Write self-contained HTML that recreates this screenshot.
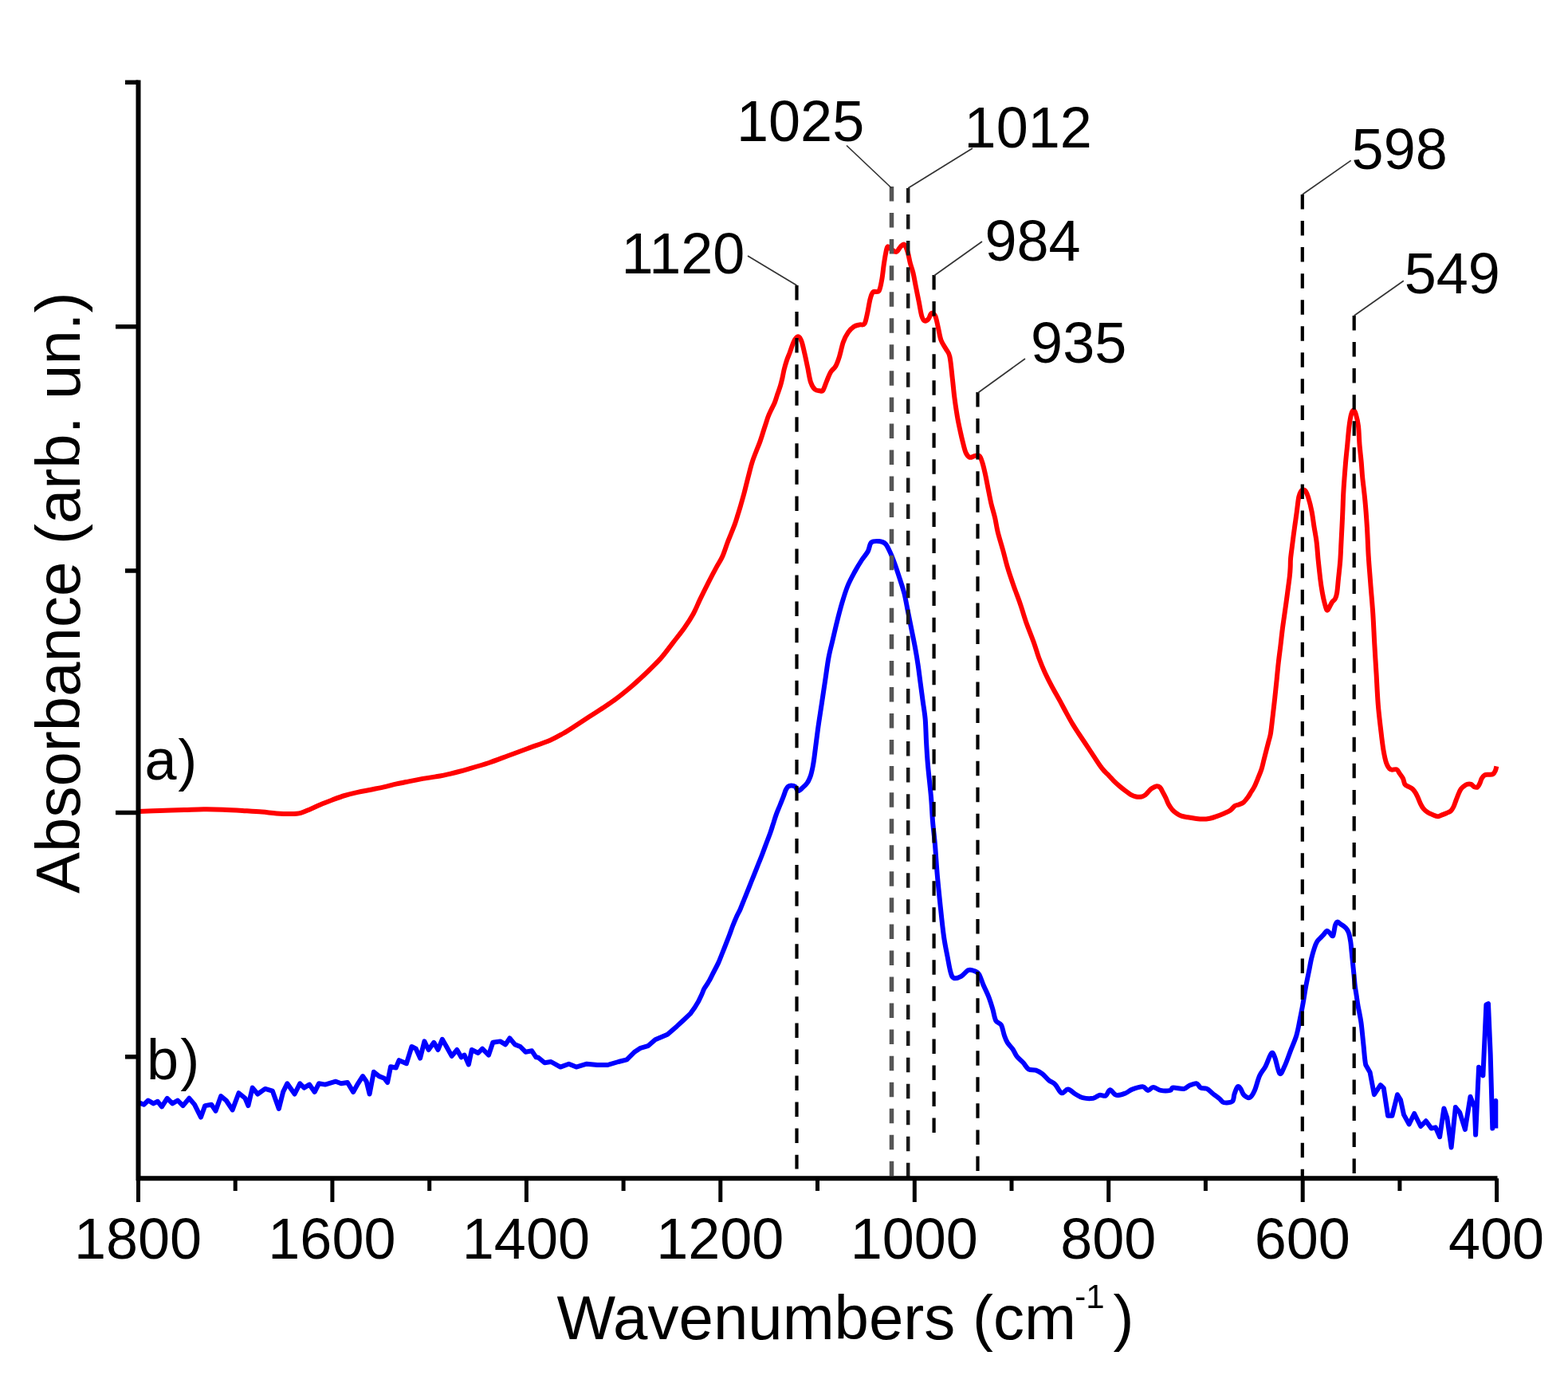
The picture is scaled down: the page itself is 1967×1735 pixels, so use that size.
<!DOCTYPE html>
<html><head><meta charset="utf-8"><title>IR spectra</title>
<style>html,body{margin:0;padding:0;background:#fff;}svg{display:block;}</style></head>
<body>
<svg xmlns="http://www.w3.org/2000/svg" width="1967" height="1735" viewBox="0 0 1967 1735">
<rect width="1967" height="1735" fill="#fff"/>
<path d="M173.7,1017.9 C178.2,1017.8 190.9,1017.3 200.5,1017.0 C210.1,1016.7 221.8,1016.4 231.0,1016.1 C240.2,1015.8 247.3,1015.4 255.4,1015.3 C263.5,1015.2 271.7,1015.4 279.8,1015.7 C287.9,1016.0 296.1,1016.5 304.2,1017.0 C312.3,1017.5 321.5,1018.0 328.6,1018.6 C335.7,1019.2 340.8,1020.0 346.9,1020.4 C353.0,1020.8 360.1,1021.1 365.2,1021.0 C370.3,1020.9 373.3,1020.8 377.4,1019.8 C381.5,1018.8 385.5,1016.6 389.6,1014.9 C393.7,1013.2 397.4,1011.3 401.8,1009.4 C406.2,1007.5 411.2,1005.6 416.3,1003.7 C421.4,1001.8 427.1,999.6 432.5,998.0 C437.9,996.4 443.4,995.1 448.8,993.9 C454.2,992.7 459.7,991.8 465.1,990.7 C470.5,989.6 476.0,988.6 481.4,987.4 C486.8,986.2 492.2,984.6 497.6,983.4 C503.0,982.2 508.5,981.2 513.9,980.1 C519.3,979.0 524.8,977.9 530.2,976.9 C535.6,975.9 540.8,975.4 546.5,974.4 C552.2,973.4 557.4,972.5 564.4,970.8 C571.4,969.1 580.7,966.6 588.8,964.3 C596.9,962.0 605.1,959.7 613.2,957.0 C621.3,954.3 629.5,951.0 637.6,948.0 C645.7,945.0 653.3,942.2 662.0,939.0 C670.7,935.8 682.5,931.9 690.0,928.7 C697.5,925.5 701.1,923.2 706.7,920.0 C712.3,916.8 717.8,913.1 723.4,909.5 C729.0,905.9 734.5,902.2 740.1,898.6 C745.7,895.0 751.3,891.5 756.9,887.8 C762.5,884.0 768.0,880.3 773.6,876.1 C779.2,871.9 784.7,867.4 790.3,862.7 C795.9,858.0 802.6,851.8 807.0,847.7 C811.4,843.7 812.9,842.3 816.7,838.4 C820.6,834.5 825.5,829.9 830.1,824.5 C834.7,819.1 839.7,812.2 844.4,806.1 C849.1,800.0 854.3,793.6 858.5,787.7 C862.7,781.8 866.2,776.5 869.5,770.5 C872.8,764.5 875.0,758.5 878.2,751.9 C881.4,745.3 885.0,738.0 888.5,731.1 C892.0,724.2 896.4,715.9 899.4,710.4 C902.4,704.9 904.1,703.0 906.3,698.0 C908.5,693.0 910.8,685.5 912.6,680.7 C914.4,675.9 915.8,672.9 917.3,669.0 C918.8,665.1 920.4,661.4 921.8,657.6 C923.2,653.8 924.3,649.8 925.5,646.0 C926.7,642.2 927.7,639.1 929.0,634.6 C930.3,630.1 931.9,624.6 933.4,619.0 C934.9,613.4 936.7,605.7 938.0,600.7 C939.3,595.7 940.0,592.9 941.0,589.0 C942.0,585.1 943.0,581.4 944.3,577.6 C945.6,573.8 947.2,569.8 948.7,566.0 C950.2,562.2 951.8,558.4 953.2,554.6 C954.6,550.8 955.8,546.9 957.0,543.0 C958.2,539.1 959.6,534.8 960.7,531.5 C961.8,528.2 962.4,525.9 963.5,523.0 C964.6,520.1 966.1,517.0 967.5,514.0 C968.9,511.0 970.6,508.2 971.9,504.9 C973.2,501.6 974.3,497.4 975.5,494.0 C976.7,490.6 977.9,487.5 978.9,484.2 C979.9,480.9 980.7,477.5 981.5,474.0 C982.3,470.5 982.8,467.1 983.7,463.4 C984.6,459.7 985.9,455.4 987.0,452.0 C988.1,448.6 989.4,445.9 990.6,442.7 C991.8,439.5 992.9,435.9 994.0,433.0 C995.1,430.1 996.2,427.3 997.5,425.5 C998.8,423.7 1000.4,421.8 1001.8,422.4 C1003.2,422.9 1004.4,425.2 1005.7,428.8 C1007.0,432.4 1008.2,438.5 1009.5,444.0 C1010.8,449.5 1012.0,455.8 1013.3,461.7 C1014.5,467.6 1015.5,475.1 1017.0,479.5 C1018.5,483.9 1020.2,486.6 1022.1,488.4 C1024.0,490.2 1026.8,490.1 1028.5,490.3 C1030.2,490.5 1030.9,491.8 1032.4,489.7 C1033.9,487.6 1035.7,481.4 1037.3,477.6 C1038.9,473.8 1040.3,469.7 1042.1,466.7 C1043.9,463.7 1046.4,462.7 1048.2,459.5 C1050.0,456.3 1051.4,452.4 1053.0,447.3 C1054.6,442.2 1056.0,434.2 1057.8,429.2 C1059.6,424.2 1061.7,420.3 1063.9,417.1 C1066.1,413.9 1068.8,411.4 1071.2,409.8 C1073.6,408.2 1076.2,408.0 1078.4,407.4 C1080.6,406.8 1082.9,408.6 1084.5,406.2 C1086.1,403.8 1086.9,398.1 1088.1,392.9 C1089.3,387.6 1090.5,379.1 1091.7,374.7 C1092.9,370.3 1093.6,367.9 1095.4,366.3 C1097.2,364.7 1100.8,367.6 1102.6,365.0 C1104.4,362.4 1105.3,355.9 1106.3,350.5 C1107.3,345.1 1107.9,337.8 1108.7,332.4 C1109.5,326.9 1110.3,321.6 1111.1,317.8 C1111.9,314.0 1112.3,310.2 1113.5,309.4 C1114.7,308.6 1116.6,311.9 1118.4,313.0 C1120.2,314.1 1122.7,316.6 1124.6,316.0 C1126.5,315.4 1128.0,310.9 1129.7,309.4 C1131.4,307.9 1133.0,305.7 1134.5,306.9 C1136.0,308.1 1137.6,312.8 1138.8,316.6 C1140.0,320.5 1140.7,325.8 1141.8,330.0 C1142.9,334.2 1144.2,337.0 1145.4,342.0 C1146.6,347.0 1147.8,354.1 1149.0,360.2 C1150.2,366.3 1151.5,372.3 1152.7,378.4 C1153.9,384.4 1155.1,392.5 1156.3,396.5 C1157.5,400.5 1158.5,402.0 1159.9,402.6 C1161.3,403.2 1163.4,401.7 1164.8,400.1 C1166.2,398.5 1167.0,393.5 1168.4,392.9 C1169.8,392.3 1171.9,393.5 1173.3,396.5 C1174.7,399.5 1175.7,405.9 1176.9,411.0 C1178.1,416.1 1178.9,422.4 1180.5,426.8 C1182.1,431.2 1184.8,434.3 1186.6,437.7 C1188.4,441.1 1190.0,441.1 1191.4,447.3 C1192.8,453.5 1193.8,466.5 1194.8,475.0 C1195.8,483.5 1196.3,490.3 1197.3,498.2 C1198.3,506.1 1199.7,515.4 1200.9,522.4 C1202.1,529.4 1203.3,534.9 1204.5,540.5 C1205.7,546.1 1207.0,551.6 1208.2,556.3 C1209.4,560.9 1210.4,565.5 1211.8,568.4 C1213.2,571.3 1214.8,573.2 1216.6,573.8 C1218.4,574.4 1220.7,572.3 1222.7,572.0 C1224.7,571.7 1227.1,570.6 1228.7,572.0 C1230.3,573.4 1231.2,576.7 1232.4,580.5 C1233.6,584.3 1234.8,589.6 1236.0,595.0 C1237.2,600.4 1238.4,607.1 1239.6,613.1 C1240.8,619.1 1241.9,625.2 1243.3,631.3 C1244.7,637.3 1246.7,643.4 1248.1,649.4 C1249.5,655.4 1250.0,660.7 1251.7,667.5 C1253.4,674.3 1256.0,682.5 1258.1,690.0 C1260.2,697.5 1261.8,704.9 1264.1,712.4 C1266.3,719.9 1269.0,727.4 1271.6,734.9 C1274.2,742.4 1277.2,749.9 1279.8,757.4 C1282.4,764.9 1284.1,771.6 1287.0,779.9 C1289.9,788.1 1294.5,799.3 1297.2,806.9 C1299.9,814.5 1300.9,819.1 1303.2,825.3 C1305.5,831.4 1308.0,837.7 1310.8,843.8 C1313.6,849.9 1316.7,855.9 1320.0,862.0 C1323.3,868.1 1327.6,875.5 1330.4,880.7 C1333.2,885.9 1334.5,888.4 1337.0,893.0 C1339.5,897.6 1342.9,903.9 1345.6,908.4 C1348.3,912.9 1349.5,914.7 1353.0,920.0 C1356.5,925.3 1362.1,933.5 1366.6,940.3 C1371.1,947.0 1376.6,955.8 1379.9,960.5 C1383.2,965.2 1384.7,966.6 1386.5,968.6 C1388.3,970.6 1388.8,970.7 1390.7,972.6 C1392.6,974.5 1395.4,977.9 1397.7,980.2 C1400.0,982.5 1402.3,984.5 1404.6,986.4 C1406.9,988.3 1409.2,990.2 1411.5,991.9 C1413.8,993.6 1416.1,995.5 1418.4,996.8 C1420.7,998.1 1423.0,999.0 1425.3,999.5 C1427.6,1000.0 1430.3,999.8 1432.2,999.5 C1434.1,999.2 1435.0,998.5 1436.4,997.5 C1437.8,996.5 1439.1,994.7 1440.5,993.3 C1441.9,991.9 1443.1,990.4 1444.7,989.2 C1446.3,988.1 1448.5,986.6 1450.2,986.4 C1451.9,986.2 1453.6,986.4 1455.1,987.8 C1456.6,989.2 1457.9,992.4 1459.2,994.7 C1460.5,997.0 1461.6,999.2 1462.7,1001.6 C1463.8,1004.0 1464.8,1006.9 1466.1,1009.2 C1467.4,1011.5 1468.7,1013.5 1470.3,1015.4 C1471.9,1017.2 1473.8,1018.9 1475.8,1020.3 C1477.8,1021.7 1479.6,1022.9 1482.0,1023.7 C1484.4,1024.5 1487.1,1024.8 1490.0,1025.3 C1492.9,1025.8 1496.1,1026.3 1499.2,1026.7 C1502.3,1027.1 1505.4,1027.6 1508.5,1027.6 C1511.6,1027.6 1514.6,1027.3 1517.7,1026.7 C1520.8,1026.1 1523.8,1025.0 1526.9,1023.9 C1530.0,1022.8 1533.3,1021.4 1536.1,1020.2 C1538.9,1019.0 1541.3,1018.0 1543.5,1016.5 C1545.7,1015.0 1547.2,1012.2 1549.0,1011.0 C1550.8,1009.8 1552.8,1010.0 1554.6,1009.2 C1556.4,1008.4 1558.3,1008.0 1560.1,1006.4 C1561.9,1004.8 1564.0,1002.0 1565.6,999.9 C1567.2,997.8 1568.2,995.6 1569.5,993.5 C1570.8,991.4 1572.1,989.8 1573.5,987.0 C1574.9,984.2 1576.5,980.2 1578.0,976.5 C1579.5,972.8 1581.2,969.0 1582.5,965.0 C1583.8,961.0 1584.6,956.7 1585.7,952.5 C1586.8,948.3 1587.9,943.8 1588.9,940.0 C1589.9,936.2 1590.7,933.3 1591.5,930.0 C1592.3,926.7 1593.1,925.5 1594.0,920.0 C1594.9,914.5 1595.9,904.5 1596.8,897.0 C1597.7,889.5 1598.5,882.3 1599.3,875.0 C1600.1,867.7 1600.8,860.3 1601.6,853.0 C1602.3,845.7 1603.0,838.2 1603.8,831.0 C1604.6,823.8 1605.6,816.8 1606.4,810.0 C1607.2,803.2 1607.9,796.3 1608.7,790.0 C1609.5,783.7 1610.4,777.8 1611.2,772.0 C1612.0,766.2 1612.8,760.8 1613.6,755.0 C1614.4,749.2 1615.3,742.5 1616.0,737.0 C1616.7,731.5 1617.5,726.3 1617.9,722.0 C1618.4,717.7 1618.5,714.7 1618.7,711.0 C1618.9,707.3 1618.6,705.2 1619.1,700.0 C1619.6,694.8 1620.8,686.6 1621.6,680.0 C1622.4,673.4 1623.3,666.6 1624.2,660.3 C1625.1,653.9 1626.0,648.0 1626.8,641.9 C1627.6,635.8 1628.4,627.6 1629.3,623.4 C1630.2,619.2 1631.0,618.0 1632.0,616.5 C1633.0,615.0 1634.0,614.5 1635.0,614.5 C1636.0,614.5 1637.0,615.0 1638.0,616.5 C1639.0,618.0 1639.7,619.2 1641.0,623.4 C1642.3,627.6 1644.4,635.8 1645.6,641.9 C1646.8,648.0 1647.4,653.9 1648.4,660.3 C1649.4,666.6 1650.7,672.9 1651.6,680.0 C1652.5,687.1 1652.9,695.3 1653.7,703.0 C1654.5,710.7 1655.4,719.3 1656.2,726.0 C1657.0,732.7 1657.9,738.4 1658.8,743.4 C1659.7,748.4 1660.5,752.3 1661.5,756.0 C1662.5,759.7 1663.5,764.5 1664.5,765.5 C1665.5,766.5 1666.4,763.7 1667.5,762.0 C1668.6,760.3 1669.8,757.3 1671.0,755.5 C1672.2,753.7 1674.0,753.0 1675.0,751.0 C1676.0,749.0 1676.5,747.6 1677.2,743.4 C1677.9,739.2 1678.3,732.7 1679.0,726.0 C1679.7,719.3 1680.7,710.7 1681.3,703.0 C1681.9,695.3 1682.0,688.8 1682.5,680.0 C1683.0,671.2 1683.5,660.0 1684.0,650.0 C1684.5,640.0 1684.8,628.3 1685.2,620.0 C1685.6,611.7 1686.0,606.5 1686.5,600.0 C1687.0,593.5 1687.4,587.8 1688.0,580.7 C1688.6,573.6 1689.5,565.3 1690.3,557.6 C1691.0,549.9 1691.7,540.9 1692.5,534.6 C1693.3,528.3 1694.1,523.4 1695.0,520.0 C1695.9,516.6 1697.0,514.5 1698.0,514.5 C1699.0,514.5 1700.0,516.6 1701.0,520.0 C1702.0,523.4 1703.2,528.3 1704.0,534.6 C1704.8,540.9 1704.9,549.9 1705.5,557.6 C1706.1,565.3 1707.2,573.6 1707.8,580.7 C1708.4,587.8 1708.5,592.1 1709.3,600.0 C1710.1,607.9 1711.5,617.8 1712.4,628.3 C1713.4,638.8 1714.3,651.4 1715.0,662.9 C1715.7,674.4 1716.0,686.0 1716.7,697.5 C1717.4,709.0 1718.4,720.0 1719.3,732.1 C1720.2,744.2 1721.5,757.4 1722.3,770.0 C1723.1,782.6 1723.6,795.3 1724.3,808.0 C1725.0,820.7 1725.8,833.3 1726.6,846.0 C1727.3,858.7 1727.9,872.4 1728.8,884.0 C1729.7,895.6 1731.1,906.3 1732.2,915.8 C1733.3,925.3 1734.3,934.2 1735.5,941.2 C1736.7,948.2 1737.8,953.7 1739.3,957.7 C1740.8,961.7 1742.3,964.0 1744.4,965.3 C1746.5,966.6 1750.1,964.4 1752.0,965.3 C1753.9,966.1 1754.5,968.5 1755.8,970.4 C1757.1,972.3 1758.9,974.4 1760.0,976.6 C1761.1,978.9 1761.2,982.2 1762.4,983.9 C1763.6,985.6 1765.7,986.0 1767.3,987.0 C1768.9,988.0 1770.8,988.7 1772.2,990.0 C1773.6,991.3 1774.8,993.1 1775.9,994.9 C1777.0,996.7 1777.9,998.8 1778.9,1001.0 C1779.9,1003.2 1780.9,1006.1 1782.0,1008.3 C1783.1,1010.5 1784.2,1012.7 1785.6,1014.4 C1787.0,1016.1 1788.7,1017.5 1790.5,1018.7 C1792.3,1019.9 1794.4,1020.9 1796.6,1021.8 C1798.8,1022.7 1801.9,1024.1 1803.9,1024.2 C1805.9,1024.3 1807.0,1023.1 1808.8,1022.4 C1810.6,1021.7 1813.1,1020.7 1814.9,1019.9 C1816.7,1019.1 1818.4,1018.8 1819.8,1017.5 C1821.2,1016.2 1822.4,1014.2 1823.5,1012.0 C1824.6,1009.8 1825.5,1006.8 1826.5,1004.1 C1827.5,1001.5 1828.6,998.5 1829.6,996.1 C1830.6,993.8 1831.5,991.6 1832.6,990.0 C1833.7,988.4 1835.0,987.4 1836.3,986.4 C1837.6,985.4 1839.0,984.3 1840.5,983.9 C1842.0,983.5 1844.0,983.4 1845.4,983.9 C1846.8,984.4 1847.8,986.4 1849.1,987.0 C1850.4,987.6 1852.1,988.3 1853.3,987.6 C1854.5,986.9 1855.5,984.5 1856.4,982.7 C1857.3,980.9 1857.8,978.3 1858.8,976.6 C1859.8,974.9 1861.1,973.1 1862.5,972.3 C1863.9,971.5 1865.7,971.9 1867.4,971.7 C1869.1,971.5 1871.5,971.9 1872.9,971.1 C1874.3,970.3 1875.2,968.4 1875.9,966.8 C1876.6,965.2 1877.1,962.3 1877.3,961.4" fill="none" stroke="#ff0000" stroke-width="6" stroke-linejoin="round" stroke-linecap="butt"/>
<path d="M174.0,1383.1 L180.6,1385.7 L185.9,1380.5 L192.5,1384.4 L197.8,1381.8 L203.0,1388.4 L209.7,1377.8 L216.3,1384.4 L222.9,1380.5 L229.5,1387.1 L237.4,1377.8 L244.0,1385.7 L252.0,1401.6 L257.2,1387.1 L265.2,1385.7 L270.5,1393.7 L277.1,1375.2 L283.7,1380.5 L291.6,1392.4 L299.5,1371.2 L307.5,1377.8 L311.4,1387.1 L316.7,1364.6 L323.3,1372.5 L332.6,1365.9 L341.8,1368.6 L349.8,1391.0 L355.1,1369.9 L360.3,1359.3 L369.6,1372.5 L376.2,1359.3 L381.5,1364.6 L388.1,1360.6 L394.7,1369.9 L400.0,1359.3 L407.9,1360.6 L421.2,1356.7 L427.9,1359.3 L435.9,1358.0 L443.1,1369.9 L449.1,1359.3 L455.0,1350.1 L459.7,1356.7 L463.6,1372.5 L468.9,1344.8 L475.5,1350.1 L482.1,1352.7 L486.1,1358.0 L490.1,1338.2 L496.7,1339.5 L500.6,1330.2 L509.9,1334.2 L516.5,1313.0 L521.8,1315.7 L527.1,1327.6 L532.4,1306.4 L537.6,1317.0 L544.3,1307.8 L549.5,1317.0 L554.8,1303.8 L560.1,1313.0 L566.7,1324.9 L573.3,1317.0 L578.6,1326.3 L582.6,1323.6 L587.9,1335.5 L591.8,1317.0 L599.8,1321.0 L605.1,1315.7 L613.0,1323.6 L618.3,1307.8 L627.5,1306.4 L634.1,1310.4 L639.4,1302.5 L646.0,1310.4 L652.7,1313.0 L659.3,1319.7 L667.2,1318.3 L672.5,1326.3 L675.3,1326.7 L683.2,1333.3 L691.2,1332.0 L703.0,1338.6 L713.6,1334.7 L722.9,1338.6 L736.1,1334.7 L749.3,1336.0 L762.5,1336.0 L775.8,1332.0 L786.3,1329.4 L795.6,1320.1 L803.5,1314.8 L812.8,1312.2 L822.0,1304.3 L837.3,1297.8 L849.2,1287.4 L857.5,1279.8 L865.8,1271.9 L871.5,1264.0 L876.2,1256.3 L880.0,1248.3 C881.2,1245.7 882.1,1242.8 883.2,1240.7 C884.3,1238.6 885.5,1237.2 886.5,1235.5 C887.5,1233.8 888.0,1233.5 889.5,1230.7 C891.0,1228.0 893.5,1222.8 895.5,1219.0 C897.5,1215.2 899.5,1211.4 901.3,1207.6 C903.0,1203.8 904.5,1199.8 906.0,1196.0 C907.5,1192.2 909.0,1188.4 910.5,1184.6 C912.0,1180.8 913.5,1176.8 915.0,1173.0 C916.5,1169.2 917.7,1165.3 919.2,1161.5 C920.7,1157.7 922.4,1153.5 924.0,1150.0 C925.6,1146.5 927.1,1144.2 928.6,1140.7 C930.1,1137.2 931.8,1132.8 933.3,1129.0 C934.8,1125.2 936.4,1121.4 937.9,1117.6 C939.4,1113.8 941.0,1109.8 942.5,1106.0 C944.0,1102.2 945.6,1098.4 947.1,1094.6 C948.6,1090.8 950.2,1086.8 951.7,1083.0 C953.2,1079.2 954.7,1075.8 956.3,1071.5 C957.9,1067.2 959.8,1062.0 961.5,1057.5 C963.2,1053.0 965.0,1048.4 966.5,1044.2 C968.0,1040.0 969.0,1036.3 970.3,1032.5 C971.5,1028.7 972.6,1024.9 974.0,1021.1 C975.4,1017.3 977.2,1013.3 978.7,1009.5 C980.2,1005.7 982.0,1001.3 983.2,998.1 C984.4,994.9 985.0,992.4 986.0,990.5 C987.0,988.6 987.9,987.3 989.0,986.5 C990.1,985.7 991.1,985.5 992.5,985.5 C993.9,985.5 995.8,985.5 997.3,986.6 C998.8,987.7 999.8,991.9 1001.4,992.1 C1003.0,992.3 1005.1,989.6 1007.0,988.0 C1008.9,986.4 1010.9,984.7 1012.5,982.4 C1014.1,980.1 1015.4,977.5 1016.6,974.1 C1017.8,970.7 1018.8,966.0 1019.6,962.0 C1020.4,958.0 1020.4,957.9 1021.5,950.0 C1022.6,942.1 1024.5,925.7 1026.0,914.8 C1027.5,903.9 1029.0,894.8 1030.5,884.8 C1032.0,874.8 1033.5,864.8 1035.0,854.8 C1036.5,844.8 1037.9,833.6 1039.5,824.9 C1041.1,816.2 1043.0,809.9 1044.7,802.4 C1046.5,794.9 1048.1,787.4 1050.0,779.9 C1051.9,772.4 1053.8,764.9 1056.0,757.4 C1058.2,749.9 1060.7,741.7 1063.4,735.0 C1066.1,728.3 1069.4,722.5 1072.4,717.0 C1075.4,711.5 1078.7,706.2 1081.4,702.0 C1084.2,697.8 1087.0,695.1 1088.9,691.5 C1090.8,687.9 1090.7,682.6 1093.0,680.5 C1095.3,678.4 1100.1,678.8 1103.0,679.0 C1105.9,679.2 1108.2,679.8 1110.5,682.0 C1112.8,684.2 1114.5,688.2 1116.5,692.5 C1118.5,696.8 1120.5,702.0 1122.5,707.5 C1124.5,713.0 1126.5,719.2 1128.5,725.4 C1130.5,731.6 1132.8,737.9 1134.5,744.9 C1136.2,751.9 1137.5,759.9 1139.0,767.4 C1140.5,774.9 1142.0,782.4 1143.5,789.9 C1145.0,797.4 1146.6,804.9 1148.0,812.4 C1149.4,819.9 1150.6,827.3 1151.7,834.8 C1152.8,842.3 1153.7,849.8 1154.7,857.3 C1155.7,864.8 1156.7,872.3 1157.7,879.8 C1158.7,887.3 1160.0,893.9 1160.7,902.3 C1161.4,910.7 1161.5,920.4 1162.0,930.0 C1162.5,939.6 1163.0,948.3 1164.0,960.0 C1165.0,971.7 1167.0,988.3 1168.0,1000.0 C1169.0,1011.7 1169.2,1020.0 1170.0,1030.0 C1170.8,1040.0 1172.0,1048.3 1173.0,1060.0 C1174.0,1071.7 1174.8,1086.7 1176.0,1100.0 C1177.2,1113.3 1178.7,1127.5 1180.0,1140.0 C1181.3,1152.5 1182.6,1165.0 1184.0,1175.0 C1185.4,1185.0 1187.1,1192.3 1188.5,1199.8 C1189.9,1207.2 1191.2,1215.2 1192.5,1219.7 C1193.8,1224.2 1194.2,1226.0 1196.4,1226.9 C1198.6,1227.8 1202.6,1226.6 1205.7,1224.9 C1208.8,1223.2 1212.0,1218.1 1214.9,1217.0 C1217.8,1215.9 1220.7,1217.4 1222.9,1218.3 C1225.1,1219.2 1226.4,1219.4 1228.2,1222.3 C1230.0,1225.2 1231.5,1230.9 1233.5,1235.5 C1235.5,1240.1 1238.1,1245.0 1240.1,1250.1 C1242.1,1255.2 1243.8,1260.8 1245.3,1265.9 C1246.8,1271.0 1247.5,1277.2 1249.3,1280.5 C1251.1,1283.8 1254.1,1282.7 1255.9,1285.8 C1257.7,1288.9 1258.6,1295.3 1259.9,1299.0 C1261.2,1302.7 1262.1,1305.3 1263.9,1308.2 C1265.7,1311.1 1268.5,1313.3 1270.5,1316.2 C1272.5,1319.1 1273.5,1322.6 1275.7,1325.4 C1277.9,1328.2 1281.3,1330.7 1283.7,1333.3 C1286.1,1335.9 1287.7,1339.8 1290.3,1341.3 C1292.9,1342.8 1296.6,1341.6 1299.5,1342.6 C1302.4,1343.6 1305.2,1345.3 1307.9,1347.4 C1310.6,1349.5 1313.2,1353.1 1315.9,1355.3 C1318.6,1357.5 1321.2,1357.9 1323.8,1360.6 C1326.4,1363.2 1329.0,1370.2 1331.7,1371.2 C1334.4,1372.2 1336.8,1366.4 1339.7,1366.6 C1342.6,1366.8 1345.8,1370.7 1348.9,1372.5 C1352.0,1374.3 1354.5,1376.3 1358.2,1377.2 C1362.0,1378.1 1367.9,1378.3 1371.4,1377.8 C1374.9,1377.2 1376.7,1374.5 1379.3,1373.9 C1381.9,1373.4 1385.0,1375.6 1387.2,1374.5 C1389.4,1373.4 1390.3,1367.3 1392.5,1367.2 C1394.7,1367.1 1397.2,1373.2 1400.5,1373.9 C1403.8,1374.6 1409.1,1372.4 1412.4,1371.2 C1415.7,1370.0 1416.8,1367.9 1420.3,1366.6 C1423.8,1365.3 1430.2,1363.1 1433.5,1363.3 C1436.8,1363.5 1437.9,1367.8 1440.1,1367.9 C1442.3,1368.0 1444.0,1363.9 1446.7,1363.9 C1449.4,1363.9 1452.5,1367.2 1456.0,1367.9 C1459.5,1368.6 1465.3,1368.5 1467.9,1367.9 C1470.5,1367.4 1468.9,1364.9 1471.8,1364.6 C1474.7,1364.3 1481.8,1366.3 1485.1,1365.9 C1488.4,1365.5 1489.1,1363.1 1491.7,1362.0 C1494.3,1360.9 1498.5,1358.9 1500.9,1359.3 C1503.3,1359.7 1504.0,1363.5 1506.2,1364.6 C1508.4,1365.7 1511.4,1364.6 1514.1,1365.9 C1516.8,1367.2 1519.4,1370.4 1522.1,1372.5 C1524.8,1374.6 1527.8,1376.7 1530.0,1378.5 C1532.2,1380.3 1532.6,1382.5 1535.3,1383.1 C1538.0,1383.6 1543.7,1383.6 1545.9,1381.8 C1548.1,1380.0 1547.4,1375.6 1548.5,1372.5 C1549.6,1369.4 1551.2,1364.4 1552.5,1363.3 C1553.8,1362.2 1555.1,1364.2 1556.4,1365.9 C1557.7,1367.7 1558.6,1372.0 1560.5,1373.8 C1562.4,1375.6 1565.8,1377.8 1568.0,1376.8 C1570.2,1375.8 1572.0,1372.3 1574.0,1367.8 C1576.0,1363.3 1577.8,1354.8 1580.0,1349.8 C1582.2,1344.8 1585.0,1342.5 1587.5,1337.8 C1590.0,1333.0 1593.0,1323.0 1595.0,1321.3 C1597.0,1319.5 1597.8,1323.0 1599.5,1327.3 C1601.2,1331.5 1603.4,1345.0 1605.4,1346.8 C1607.4,1348.5 1609.2,1342.5 1611.4,1337.8 C1613.7,1333.0 1616.4,1324.8 1618.9,1318.3 C1621.4,1311.8 1624.4,1305.5 1626.4,1298.8 C1628.4,1292.1 1629.5,1284.8 1630.9,1277.9 C1632.3,1271.0 1633.6,1264.4 1634.8,1257.6 C1636.0,1250.8 1637.1,1243.1 1638.3,1236.8 C1639.5,1230.5 1640.6,1225.3 1641.8,1219.5 C1643.0,1213.7 1644.0,1207.2 1645.2,1202.2 C1646.4,1197.2 1647.6,1193.2 1648.7,1189.8 C1649.8,1186.3 1650.8,1183.7 1652.1,1181.5 C1653.4,1179.3 1654.9,1178.2 1656.3,1176.7 C1657.7,1175.2 1659.0,1174.0 1660.4,1172.5 C1661.8,1171.0 1663.2,1167.9 1664.6,1167.7 C1666.0,1167.5 1667.4,1170.1 1668.7,1171.1 C1670.0,1172.1 1671.2,1175.6 1672.2,1173.9 C1673.2,1172.2 1674.1,1163.6 1675.0,1160.7 C1675.9,1157.8 1676.5,1156.8 1677.7,1156.6 C1678.9,1156.4 1680.5,1158.5 1681.9,1159.4 C1683.3,1160.3 1684.7,1161.1 1686.0,1162.1 C1687.3,1163.1 1688.5,1164.1 1689.5,1165.6 C1690.5,1167.1 1691.4,1168.4 1692.2,1171.1 C1693.0,1173.8 1693.7,1177.5 1694.3,1181.5 C1694.9,1185.5 1695.2,1190.7 1695.7,1195.3 C1696.2,1199.9 1696.6,1204.6 1697.1,1209.2 C1697.6,1213.8 1698.0,1218.4 1698.5,1223.0 C1699.0,1227.6 1699.2,1232.2 1699.8,1236.8 C1700.4,1241.4 1701.3,1246.5 1701.9,1250.7 C1702.5,1254.9 1702.7,1256.7 1703.6,1262.0 C1704.5,1267.3 1706.3,1274.5 1707.4,1282.4 C1708.5,1290.3 1709.3,1300.3 1710.3,1309.3 C1711.3,1318.2 1711.9,1330.1 1713.3,1336.1 L1718.6,1345.3 L1723.9,1373.2 L1731.8,1361.2 L1735.8,1365.2 L1741.1,1399.7 L1746.4,1399.7 L1753.0,1373.2 L1757.0,1379.8 L1761.0,1398.4 L1767.6,1410.3 L1774.2,1397.0 L1782.2,1413.0 L1788.8,1406.3 L1795.5,1415.6 L1800.8,1414.3 L1806.1,1426.2 L1811.4,1390.4 L1815.3,1402.3 L1820.6,1439.5 L1825.9,1389.1 L1831.2,1395.7 L1837.9,1416.9 L1844.5,1375.8 L1849.8,1389.1 L1851.1,1423.6 L1855.1,1338.7 L1860.4,1349.3 L1864.4,1260.5 L1867.0,1259.2 L1869.7,1322.8 L1872.3,1415.6 L1876.3,1381.1 L1876.3,1415.6" fill="none" stroke="#0000ff" stroke-width="6" stroke-linejoin="round" stroke-linecap="butt"/>
<line x1="999.5" y1="358" x2="999.5" y2="1466.5" stroke="#000" stroke-width="4.2" stroke-dasharray="18.5 14.55"/>
<line x1="1118.5" y1="234" x2="1118.5" y2="1476" stroke="#555" stroke-width="5.5" stroke-dasharray="18.5 14.55"/>
<line x1="1139.2" y1="236" x2="1139.2" y2="1476" stroke="#1a1a1a" stroke-width="4.5" stroke-dasharray="18.5 14.55"/>
<line x1="1171.6" y1="345" x2="1171.6" y2="1421.5" stroke="#000" stroke-width="4.2" stroke-dasharray="18.5 14.55"/>
<line x1="1226.5" y1="492" x2="1226.5" y2="1476" stroke="#000" stroke-width="4.2" stroke-dasharray="18.5 14.55"/>
<line x1="1633.8" y1="244" x2="1633.8" y2="1476" stroke="#000" stroke-width="4.2" stroke-dasharray="18.5 14.55"/>
<line x1="1698.7" y1="396" x2="1698.7" y2="1476" stroke="#000" stroke-width="4.2" stroke-dasharray="18.5 14.55"/>
<line x1="938" y1="321" x2="999.5" y2="358" stroke="#333" stroke-width="1.7"/>
<line x1="1062" y1="182.5" x2="1118.5" y2="236" stroke="#333" stroke-width="1.7"/>
<line x1="1220" y1="186" x2="1139.2" y2="236" stroke="#333" stroke-width="1.7"/>
<line x1="1232" y1="303" x2="1171.6" y2="346" stroke="#333" stroke-width="1.7"/>
<line x1="1286" y1="450" x2="1226.5" y2="493" stroke="#333" stroke-width="1.7"/>
<line x1="1694.7" y1="201.4" x2="1633.8" y2="244" stroke="#333" stroke-width="1.7"/>
<line x1="1760.8" y1="352.3" x2="1698.7" y2="396" stroke="#333" stroke-width="1.7"/>
<path d="M173.5,100.5 V1478.3 H1878.5" fill="none" stroke="#000" stroke-width="6" stroke-linejoin="miter"/>
<line x1="157" y1="103.3" x2="173.5" y2="103.3" stroke="#000" stroke-width="5.5"/>
<line x1="145" y1="409.8" x2="173.5" y2="409.8" stroke="#000" stroke-width="5.5"/>
<line x1="157" y1="716" x2="173.5" y2="716" stroke="#000" stroke-width="5.5"/>
<line x1="145" y1="1019.5" x2="173.5" y2="1019.5" stroke="#000" stroke-width="5.5"/>
<line x1="157" y1="1325.8" x2="173.5" y2="1325.8" stroke="#000" stroke-width="5.5"/>
<line x1="173.5" y1="1478.3" x2="173.5" y2="1508" stroke="#000" stroke-width="5"/>
<line x1="295.2" y1="1478.3" x2="295.2" y2="1494" stroke="#000" stroke-width="5"/>
<line x1="416.9" y1="1478.3" x2="416.9" y2="1508" stroke="#000" stroke-width="5"/>
<line x1="538.7" y1="1478.3" x2="538.7" y2="1494" stroke="#000" stroke-width="5"/>
<line x1="660.4" y1="1478.3" x2="660.4" y2="1508" stroke="#000" stroke-width="5"/>
<line x1="782.1" y1="1478.3" x2="782.1" y2="1494" stroke="#000" stroke-width="5"/>
<line x1="903.8" y1="1478.3" x2="903.8" y2="1508" stroke="#000" stroke-width="5"/>
<line x1="1025.5" y1="1478.3" x2="1025.5" y2="1494" stroke="#000" stroke-width="5"/>
<line x1="1147.3" y1="1478.3" x2="1147.3" y2="1508" stroke="#000" stroke-width="5"/>
<line x1="1269.0" y1="1478.3" x2="1269.0" y2="1494" stroke="#000" stroke-width="5"/>
<line x1="1390.7" y1="1478.3" x2="1390.7" y2="1508" stroke="#000" stroke-width="5"/>
<line x1="1512.4" y1="1478.3" x2="1512.4" y2="1494" stroke="#000" stroke-width="5"/>
<line x1="1634.2" y1="1478.3" x2="1634.2" y2="1508" stroke="#000" stroke-width="5"/>
<line x1="1755.9" y1="1478.3" x2="1755.9" y2="1494" stroke="#000" stroke-width="5"/>
<line x1="1877.6" y1="1478.3" x2="1877.6" y2="1508" stroke="#000" stroke-width="5"/>
<g font-family="Liberation Sans, Arial, sans-serif" font-size="72" fill="#000" text-anchor="middle">
<text x="173.0" y="1579">1800</text>
<text x="416.4" y="1579">1600</text>
<text x="659.9" y="1579">1400</text>
<text x="903.3" y="1579">1200</text>
<text x="1146.8" y="1579">1000</text>
<text x="1390.2" y="1579">800</text>
<text x="1633.7" y="1579">600</text>
<text x="1877.1" y="1579">400</text>
</g>
<g font-family="Liberation Sans, Arial, sans-serif" font-size="72" fill="#000">
<text x="779.5" y="343">1120</text>
<text x="924" y="176.5">1025</text>
<text x="1209.6" y="184.5">1012</text>
<text x="1235.4" y="326.8">984</text>
<text x="1293.1" y="455">935</text>
<text x="1695.6" y="212.3">598</text>
<text x="1761.7" y="368.4">549</text>
<text x="181.6" y="977.6">a</text>
<text x="223.3" y="977.6">)</text>
<text x="184" y="1353.6">b</text>
<text x="226.2" y="1353.6">)</text>
</g>
<g font-family="Liberation Sans, Arial, sans-serif" font-size="78" fill="#000">
<text x="698.4" y="1679.7">Wavenumbers (cm</text>
<text x="1396.5" y="1680">)</text>
<text transform="translate(100,1121) rotate(-90)" x="0" y="0">Absorbance (arb. un.)</text>
</g>
<text x="1348.3" y="1641" font-family="Liberation Sans, Arial, sans-serif" font-size="42" fill="#000">-1</text>
</svg>
</body></html>
